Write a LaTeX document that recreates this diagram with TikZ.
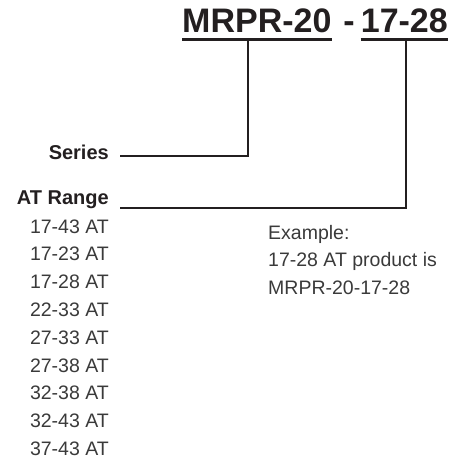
\documentclass[tikz,border=0pt]{standalone}
\usepackage{fontspec}
\setmainfont{Liberation Sans}
\usetikzlibrary{calc}
\definecolor{ink}{HTML}{231F20}
\definecolor{soft}{HTML}{3A3A3A}
\tikzstyle{title} = [inner sep=0pt, text=ink, font=\fontsize{34}{36}\selectfont\bfseries]
\tikzstyle{label} = [inner sep=0pt, text=ink, font=\fontsize{20}{24}\selectfont\bfseries]
\tikzstyle{entry} = [inner sep=0pt, text=soft, font=\fontsize{19.5}{24}\selectfont]
\tikzstyle{codebar} = [draw=ink, line width=3pt]
\tikzstyle{link} = [draw=ink, line width=2pt]

\begin{document}
\begin{tikzpicture}[x=1pt, y=-1pt]
        \useasboundingbox (0,0) rectangle (453,460);
        % model code
        \node[title, anchor=base west] (series code) at (182,33) {MRPR-20};
        \node[title, anchor=base] (dash) at (349,33) {-};
        \node[title, anchor=base east] (range code) at (448,33) {17-28};
        \path[codebar] ([yshift=-6.5pt]series code.base west) -- ([yshift=-6.5pt]series code.base east);
        \path[codebar] ([yshift=-6.5pt]range code.base west) -- ([yshift=-6.5pt]range code.base east);
        \coordinate (series tap) at (248,41);
        \coordinate (range tap) at (406,41);
        % labels
        \node[label, anchor=base east] (series) at (109,159) {Series};
        \node[label, anchor=base east] (range) at (109,204) {AT Range};
        \path[link] (series tap) |- ([xshift=11pt]series.mid east);
        \path[link] (range tap) |- ([xshift=11pt,yshift=-4pt]range.base east);
        % ranges
        \foreach \r [count=\i from 0] in {17-43,17-23,17-28,22-33,27-33,27-38,32-38,32-43,37-43}
            \node[entry, anchor=base east] (item\i) at (109,{233+27.8*\i}) {\r\ AT};
        % example (base is the last line)
        \node[entry, anchor=base west, align=left, font=\fontsize{19.5}{27.5}\selectfont] (example) at (268,294)
            {Example:\\17-28 AT product is\\MRPR-20-17-28};
    \end{tikzpicture}
\end{document}
